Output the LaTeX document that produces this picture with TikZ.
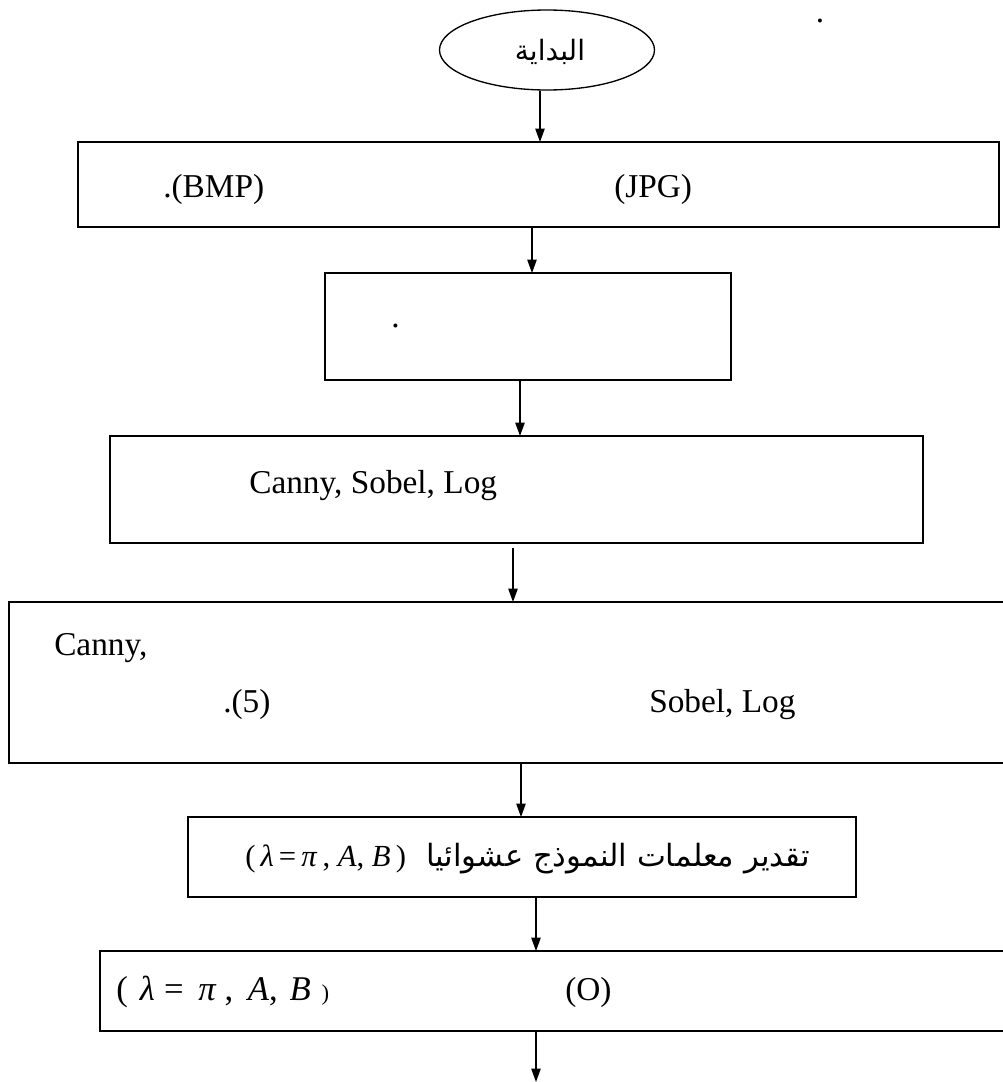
\documentclass[tikz,border=0pt]{standalone}
\usepackage{fontspec}
\setmainfont{Liberation Serif}
\newfontfamily\arabicfont[Script=Arabic]{DejaVu Sans}
\TeXXeTstate=1
\usetikzlibrary{arrows.meta,shapes.geometric}
\begin{document}
\begin{tikzpicture}[x=0.75pt,y=-0.75pt,
  box/.style={draw, line width=1.4pt, inner sep=0pt, outer sep=0pt},
  arr/.style={line width=1pt, -{Triangle[length=10pt,width=7pt]}},
  txt/.style={inner sep=0pt, anchor=base west, font=\fontsize{25}{30}\selectfont},
  artxt/.style={inner sep=0pt, font=\arabicfont\fontsize{21}{24}\selectfont}]
\useasboundingbox (0,0) rectangle (1003,1082);
\clip (0,0) rectangle (1003,1082);

% shapes
\node[draw, ellipse, line width=1pt, minimum width=215*0.75pt, minimum height=80*0.75pt, inner sep=0pt] (start) at (547,50) {};
\node[artxt] (startt) at (550,52) {\beginR البداية\endR};
\node[box, minimum width=921*0.75pt, minimum height=85*0.75pt] (b1) at (538.5,184.5) {};
\node[box, minimum width=406*0.75pt, minimum height=107*0.75pt] (b2) at (528,326.5) {};
\node[box, minimum width=813*0.75pt, minimum height=107*0.75pt] (b3) at (516.5,489.5) {};
\node[box, minimum width=1001*0.75pt, minimum height=161*0.75pt] (b4) at (509.5,682.5) {};
\node[box, minimum width=668*0.75pt, minimum height=80*0.75pt] (b5) at (522,857) {};
\node[box, minimum width=910*0.75pt, minimum height=80*0.75pt] (b6) at (555,991) {};

% texts
\node[txt, anchor=center] (dot0) at (820,22) {\smash{.}};
\node[txt] (t1a) at (163,197) {.(BMP)};
\node[txt] (t1b) at (614,197) {(JPG)};
\node[txt] (dot2) at (391,327) {.};
\node[txt] (t3) at (249,493) {Canny, Sobel, Log};
\node[txt] (t4a) at (54,655) {Canny,};
\node[txt] (t4b) at (223,712) {.(5)};
\node[txt] (t4c) at (649,712) {Sobel, Log};
\node[txt, font=\fontsize{23}{27}\selectfont] (t5a) at (245,866) {(\,\textit{λ}\,=\,\textit{π}\,, \textit{A}, \textit{B}\,)};
\node[artxt, anchor=base east] (t5b) at (810,866) {\fontsize{23}{28}\selectfont\beginR تقدير معلمات النموذج عشوائيا\endR};
\node[txt, font=\fontsize{26}{30}\selectfont] (t6a) at (116,1000) {(\hspace{9pt}\textit{λ}\hspace{7pt}=\hspace{11pt}\textit{π}\hspace{6pt},\hspace{11pt}\textit{A},\hspace{9pt}\textit{B}\hspace{8pt}{\fontsize{17}{20}\selectfont)}};
\node[txt] (t6b) at (565,1000) {(O)};

% connector x positions
\coordinate (x1) at (540,0);
\coordinate (x2) at (532,0);
\coordinate (x3) at (520,0);
\coordinate (x4) at (513,0);
\coordinate (x5) at (521,0);
\coordinate (x6) at (536,0);
\coordinate (endc) at (536,1082);

\draw[arr] (start.south -| x1) -- (b1.north -| x1);
\draw[arr] (b1.south -| x2) -- (b2.north -| x2);
\draw[arr] (b2.south -| x3) -- (b3.north -| x3);
\draw[arr] ([yshift=-4pt]b3.south -| x4) -- (b4.north -| x4);
\draw[arr] (b4.south -| x5) -- (b5.north -| x5);
\draw[arr] (b5.south -| x6) -- (b6.north -| x6);
\draw[arr] (b6.south -| x6) -- (endc);
\end{tikzpicture}
\end{document}
